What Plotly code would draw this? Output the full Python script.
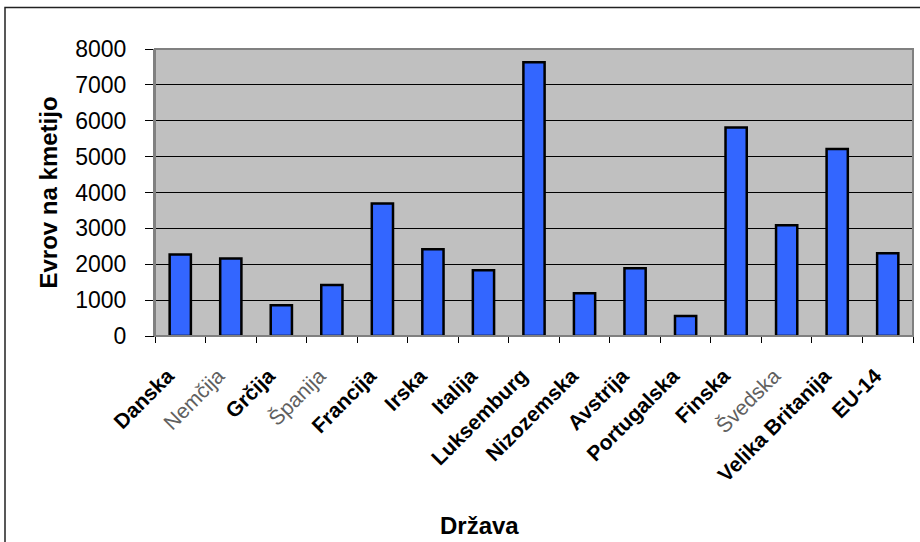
import plotly.graph_objects as go

# Subsidy per farm by country (EUR)
countries = ["Danska", "Nemčija", "Grčija", "Španija", "Francija", "Irska", "Italija",
             "Luksemburg", "Nizozemska", "Avstrija", "Portugalska", "Finska", "Švedska",
             "Velika Britanija", "EU-14"]
values = [2270, 2160, 860, 1420, 3690, 2420, 1830, 7630, 1190, 1890, 560, 5810, 3090, 5210, 2310]
faded = {"Nemčija", "Španija", "Švedska"}

y_ticks = [0, 1000, 2000, 3000, 4000, 5000, 6000, 7000, 8000]
x_title = "Država"
y_title = "Evrov na kmetijo"

FONT = "Liberation Sans, Arial, sans-serif"

# trailing non-breaking spaces push each rotated label down-left of its tick
PAD = "\u00a0" * 3
tick_text = [
    (f'<span style="color:#606060">{c}</span>' if c in faded else f"<b>{c}</b>") + PAD
    for c in countries
]

fig = go.Figure(
    go.Bar(
        x=countries,
        y=values,
        marker=dict(color="#3366FF", line=dict(color="black", width=2.5)),
        width=0.42,
    )
)

L, R, T, B = 155, 7, 49, 206
W, H = 920, 542
pw, ph = W - L - R, H - T - B

def px_x(p):
    return (p - L) / pw

def px_y(p):
    return (H - B - p) / ph

fig.update_layout(
    width=W,
    height=H,
    margin=dict(l=L, r=R, t=T, b=B, pad=0),
    paper_bgcolor="white",
    plot_bgcolor="#C0C0C0",
    showlegend=False,
    font=dict(family=FONT, color="black"),
    xaxis=dict(
        tickmode="array",
        tickvals=countries,
        ticktext=tick_text,
        tickangle=-45,
        tickfont=dict(size=21, family=FONT, color="black"),
        ticks="outside",
        tickson="boundaries",
        ticklen=6,
        tickcolor="black",
        ticklabelstandoff=6,
        showline=True,
        linecolor="black",
        linewidth=1,
        showgrid=False,
    ),
    yaxis=dict(
        range=[0, 8000],
        tickvals=y_ticks,
        tickfont=dict(size=23, family=FONT, color="black"),
        ticks="outside",
        ticklen=8,
        tickcolor="black",
        ticklabelstandoff=14,
        showgrid=True,
        gridcolor="black",
        gridwidth=1,
        zeroline=False,
        showline=True,
        linecolor="#808080",
        linewidth=2,
    ),
    shapes=[
        # plot area edge (top / right)
        dict(type="rect", xref="paper", yref="paper", x0=0, x1=1, y0=0, y1=1,
             line=dict(color="#808080", width=2), layer="above"),
        # outer chart frame
        dict(type="rect", xref="paper", yref="paper",
             x0=px_x(5), x1=px_x(960), y0=px_y(600), y1=px_y(7.5),
             line=dict(color="#222222", width=1.5), layer="above"),
    ],
    annotations=[
        dict(text=f"<b>{y_title}</b>", xref="paper", yref="paper",
             x=px_x(48), y=0.5, textangle=-90, showarrow=False,
             font=dict(size=24, family=FONT, color="black"),
             xanchor="center", yanchor="middle"),
        dict(text=f"<b>{x_title}</b>", xref="paper", yref="paper",
             x=px_x(479), y=px_y(525), showarrow=False,
             font=dict(size=24, family=FONT, color="black"),
             xanchor="center", yanchor="middle"),
    ],
)

fig.write_html("out.html")
